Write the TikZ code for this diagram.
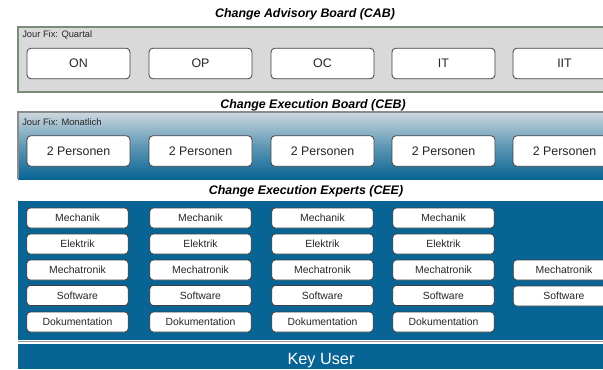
\documentclass[tikz,border=0pt]{standalone}
\usepackage{fontspec}
\setmainfont{Liberation Sans}
\begin{document}
\begin{tikzpicture}[x=0.75pt,y=-0.75pt,
  title/.style={font=\fontsize{9.3pt}{11pt}\selectfont\bfseries\itshape, inner sep=0pt},
  jour/.style={font=\fontsize{7pt}{8pt}\selectfont, anchor=west, inner sep=0pt, text=black!85},
  bigbox/.style={draw=black!75, line width=0.6pt, fill=white, rounded corners=3pt,
    minimum width=77.25pt, minimum height=23pt, inner sep=0pt,
    font=\fontsize{9.3pt}{11pt}\selectfont, text=black!85},
  smallbox/.style={draw=black!75, line width=0.6pt, fill=white, rounded corners=2.5pt,
    minimum width=76pt, minimum height=15pt, inner sep=0pt,
    font=\fontsize{7.8pt}{9pt}\selectfont, text=black!85},
]
\definecolor{cabfill}{RGB}{217,217,217}
\definecolor{cabline}{RGB}{120,140,120}
\definecolor{deepblue}{RGB}{8,100,148}
\definecolor{lightblue}{RGB}{205,216,223}
\useasboundingbox (0,0) rectangle (603,369);
\clip (0,0) rectangle (603,369);
\fill[white] (0,0) rectangle (603,369);

% CAB
\node[title] (tcab) at (305,14) {Change Advisory Board (CAB)};
\draw[cabline, line width=0.8pt, fill=cabfill] (18,27) rectangle (640,92);
\node[jour] (jcab) at (22,35) {Jour Fix: Quartal};
\node[bigbox] (on) at (78.5,63.5) {ON};
\node[bigbox] (op) at (200.5,63.5) {OP};
\node[bigbox] (oc) at (322.5,63.5) {OC};
\node[bigbox] (it) at (443.5,63.5) {IT};
\node[bigbox] (iit) at (564.5,63.5) {IIT};

% CEB
\node[title] (tceb) at (313,105) {Change Execution Board (CEB)};
\shade[top color=lightblue, bottom color=deepblue, middle color=lightblue!45!deepblue] (18,112) rectangle (640,179);
\draw[black!45, line width=0.8pt] (18,179) -- (18,112) -- (640,112);
\node[jour] (jceb) at (22,122) {Jour Fix: Monatlich};
\node[bigbox] (p1) at (78.5,151) {2 Personen};
\node[bigbox] (p2) at (200.5,151) {2 Personen};
\node[bigbox] (p3) at (322.5,151) {2 Personen};
\node[bigbox] (p4) at (443.5,151) {2 Personen};
\node[bigbox] (p5) at (564.5,151) {2 Personen};

% CEE
\node[title] (tcee) at (306,191) {Change Execution Experts (CEE)};
\fill[deepblue] (18,201) rectangle (640,340);
\draw[black!40, line width=0.6pt] (18,341.5) -- (640,341.5);

\foreach \c/\x in {1/77.5, 2/200.5, 3/322.5, 4/443.5}{
  \node[smallbox] (mech\c) at (\x,218) {Mechanik};
  \node[smallbox] (elek\c) at (\x,244) {Elektrik};
  \node[smallbox] (mtr\c) at (\x,270) {Mechatronik};
  \node[smallbox] (sw\c) at (\x,295.5) {Software};
  \node[smallbox] (doku\c) at (\x,322) {Dokumentation};
}
\node[smallbox] (mtr5) at (564,270) {Mechatronik};
\node[smallbox] (sw5) at (564,296) {Software};

% Key User
\fill[deepblue] (18,343.5) rectangle (640,369);
\node[font=\fontsize{12.2pt}{14pt}\selectfont, text=white, inner sep=0pt] (ku) at (321,361) {Key User};
\end{tikzpicture}
\end{document}
